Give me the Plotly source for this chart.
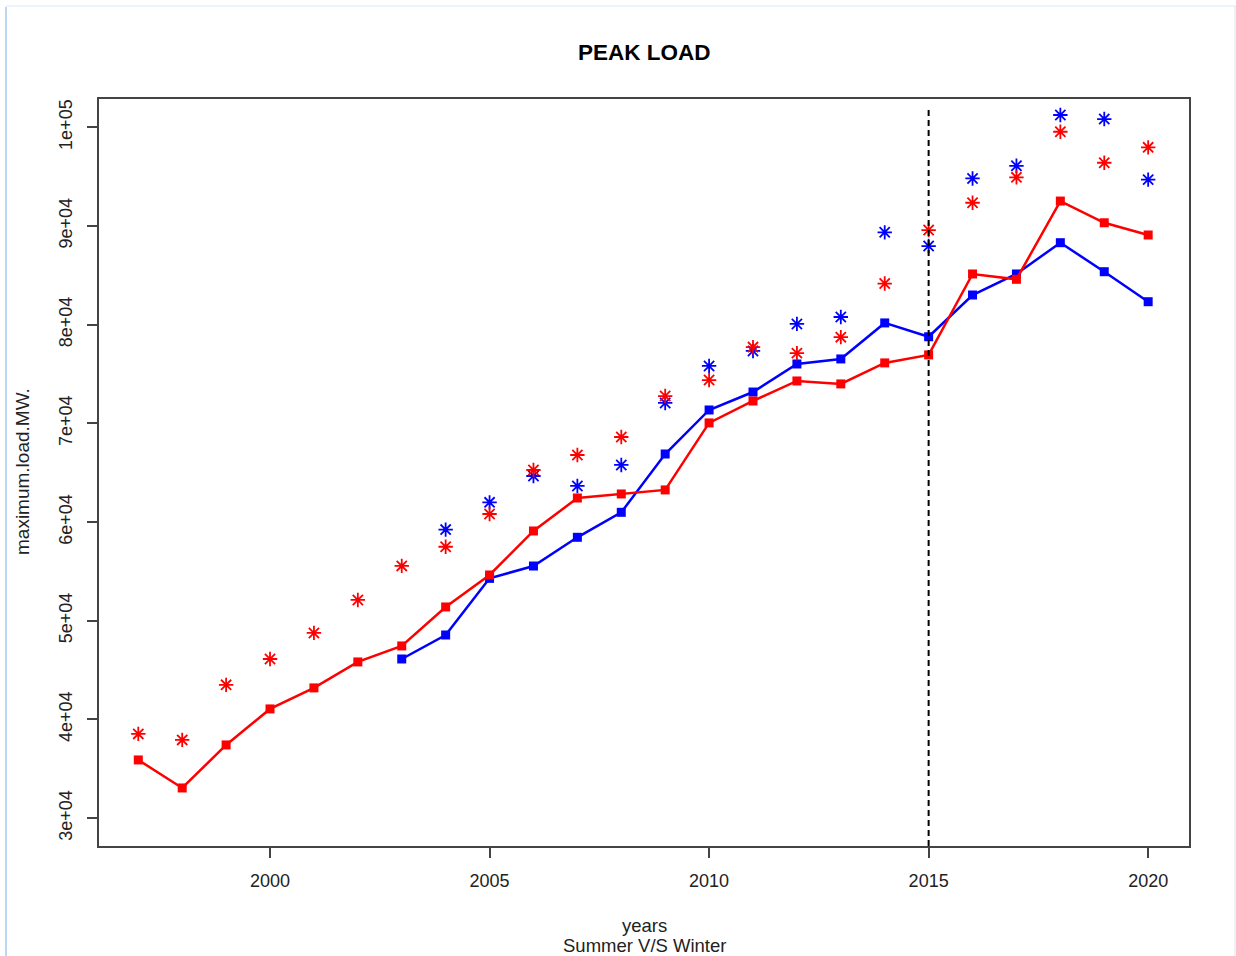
import plotly.graph_objects as go

# ---- data -------------------------------------------------------------
years = list(range(1997, 2021))

summer_peak = [35900, 33060, 37420, 41070, 43200, 45830, 47450, 51400, 54640,
               59100, 62440, 62850, 63260, 70050, 72270, 74300, 74000, 76130,
               76940, 85140, 84600, 92530, 90330, 89090]

summer_proj = [38540, 37930, 43510, 46130, 48770, 52110, 55560, 57500, 60820,
               65280, 66800, 68620, 72770, 74390, 77730, 77120, 78740, 84170,
               89590, 92360, 94930, 99550, 96410, 97970]

winter_years = list(range(2003, 2021))
winter_peak = [46130, 48560, 54300, 55550, 58460, 60990, 66900, 71360, 73180,
               76020, 76530, 80180, 78780, 83010, 85140, 88310, 85370, 82330]

winter_proj_years = list(range(2004, 2021))
winter_proj = [59240, 62000, 64670, 63660, 65790, 72070, 75820, 77340, 80080,
               80780, 89360, 87970, 94820, 96100, 101250, 100840, 94700]

x_ticks = [2000, 2005, 2010, 2015, 2020]
y_ticks = [30000, 40000, 50000, 60000, 70000, 80000, 90000, 100000]
y_tick_text = ["3e+04", "4e+04", "5e+04", "6e+04", "7e+04", "8e+04", "9e+04", "1e+05"]

split_year = 2015
split_top = 101750

# ---- layout geometry (pixels) ------------------------------------------
W, H = 1236, 956
L, R, T, B = 99, 1189, 99, 846
PW, PH = R - L, B - T


def px(xp):
    return (xp - L) / PW


def py(yp):
    return (B - yp) / PH


RED = "#ff0000"
BLUE = "#0000ff"
FONT = "Liberation Sans, Arial, sans-serif"
TXT = "#222222"

fig = go.Figure()

fig.add_trace(go.Scatter(
    x=winter_years, y=winter_peak, mode="lines+markers",
    line=dict(color=BLUE, width=2.5),
    marker=dict(symbol="square", size=9, color=BLUE),
    name="winter", showlegend=False, hoverinfo="x+y"))

fig.add_trace(go.Scatter(
    x=years, y=summer_peak, mode="lines+markers",
    line=dict(color=RED, width=2.5),
    marker=dict(symbol="square", size=9, color=RED),
    name="summer", showlegend=False, hoverinfo="x+y"))

fig.add_trace(go.Scatter(
    x=winter_proj_years, y=winter_proj, mode="markers",
    marker=dict(symbol="asterisk-open", size=12, color=BLUE,
                line=dict(color=BLUE, width=1.8)),
    name="winter projected", showlegend=False, hoverinfo="x+y"))

fig.add_trace(go.Scatter(
    x=years, y=summer_proj, mode="markers",
    marker=dict(symbol="asterisk-open", size=12, color=RED,
                line=dict(color=RED, width=1.8)),
    name="summer projected", showlegend=False, hoverinfo="x+y"))

x_range = [1996.105, 2020.93]
y_range = [27180, 102870]

shapes = [
    # dashed split line
    dict(type="line", xref="x", yref="y", x0=split_year, x1=split_year,
         y0=y_range[0], y1=split_top,
         line=dict(color="black", width=2, dash="6px,4px"), layer="above"),
    # page frame
    dict(type="line", xref="paper", yref="paper",
         x0=px(6), x1=px(6), y0=py(7), y1=py(H),
         line=dict(color="#bcd7f4", width=2)),
    dict(type="line", xref="paper", yref="paper",
         x0=px(6), x1=px(1236), y0=py(6), y1=py(6),
         line=dict(color="#eef4fc", width=2)),
    dict(type="line", xref="paper", yref="paper",
         x0=px(1235), x1=px(1235), y0=py(6), y1=py(956),
         line=dict(color="#e8edf3", width=1.5)),
]

annotations = [
    dict(text="<b>PEAK LOAD</b>", xref="paper", yref="paper",
         x=px(644), y=py(53), showarrow=False,
         font=dict(family=FONT, size=22.5, color="black"),
         xanchor="center", yanchor="middle"),
    dict(text="years", xref="paper", yref="paper",
         x=px(644), y=py(925), showarrow=False,
         font=dict(family=FONT, size=18.5, color=TXT),
         xanchor="center", yanchor="middle"),
    dict(text="Summer V/S Winter", xref="paper", yref="paper",
         x=px(644), y=py(946), showarrow=False,
         font=dict(family=FONT, size=18.5, color=TXT),
         xanchor="center", yanchor="middle"),
    dict(text="maximum.load.MW.", xref="paper", yref="paper",
         x=px(22), y=py(472), showarrow=False, textangle=-90,
         font=dict(family=FONT, size=19, color=TXT),
         xanchor="center", yanchor="middle"),
]

fig.update_layout(
    width=W, height=H,
    margin=dict(l=L, r=W - R, t=T, b=H - B, pad=0),
    paper_bgcolor="white", plot_bgcolor="white",
    font=dict(family=FONT, size=18, color=TXT),
    shapes=shapes, annotations=annotations,
    showlegend=False,
)

fig.update_xaxes(
    range=x_range, tickvals=x_ticks, ticks="outside", ticklen=10,
    tickwidth=1.5, tickcolor="#444", showgrid=False, zeroline=False,
    showline=True, mirror=True, linecolor="#444", linewidth=2,
    tickfont=dict(family=FONT, size=18, color=TXT),
    ticklabelstandoff=7,
)

fig.update_yaxes(
    range=y_range, tickvals=y_ticks, ticktext=y_tick_text, ticks="outside",
    ticklen=10, tickwidth=1.5, tickcolor="#444", showgrid=False,
    zeroline=False, showline=True, mirror=True, linecolor="#444",
    linewidth=2, tickangle=-90, ticklabelstandoff=8,
    tickfont=dict(family=FONT, size=18, color=TXT),
)

fig.write_html("out.html")
